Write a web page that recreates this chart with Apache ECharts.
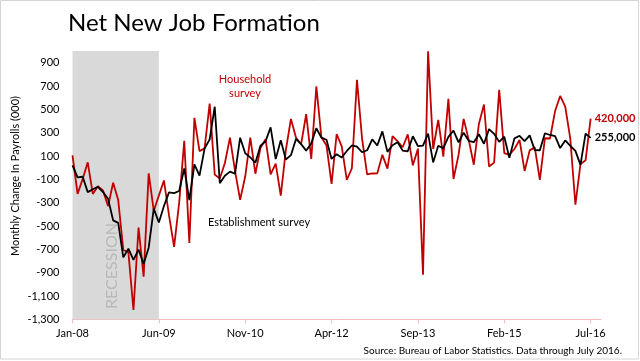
<!DOCTYPE html>
<html><head><meta charset="utf-8">
<script src="https://cdn.jsdelivr.net/npm/echarts@6/dist/echarts.min.js"></script>
<style>html,body{margin:0;padding:0;background:#fff}#c{width:640px;height:361px}</style>
</head><body><div id="c"></div>
<script>
// Monthly change in payrolls (thousands), Jan-08 .. Jul-16
const establishment = [
  20, -84, -78, -210, -185, -165, -209, -266, -452, -473, -769, -695,
  -791, -703, -823, -686, -351, -470, -329, -212, -219, -200, -7, -279,
  28, -69, 163, 243, 522, -133, -70, -34, -52, 257, 123, 88,
  42, 188, 225, 346, 73, 235, 70, 107, 246, 202, 146, 207,
  338, 257, 239, 75, 115, 87, 143, 190, 181, 132, 149, 243,
  190, 311, 135, 192, 218, 146, 140, 269, 185, 189, 291, 45,
  187, 168, 264, 318, 216, 300, 230, 218, 286, 205, 330, 290,
  221, 265, 84, 251, 273, 228, 277, 150, 149, 295, 280, 271,
  168, 233, 186, 144, 24, 292, 255
];
const household = [
  106, -225, -97, 46, -225, -160, -195, -330, -129, -278, -706, -724,
  -1220, -514, -935, -49, -370, -240, -110, -410, -680, -300, 230, -646,
  427, 142, 165, 550, -60, -93, 40, 258, -30, -276, -76, 258,
  -52, 168, 245, -58, 34, -240, 150, 418, 257, 200, 458, 74,
  696, 260, 190, -140, 288, 182, -105, -5, 753, 250, -58, -50,
  -49, 110, -8, 270, 225, 175, 285, 20, 163, -918, 998, 160,
  410, 95, 590, -97, 110, 418, 238, 25, 375, 541, 10, 43,
  667, 124, 110, 160, 238, -28, 148, 174, -105, 252, 250, 485,
  615, 523, 246, -318, 30, 63, 420
];
const tickLabels = ['Jan-08', 'Jun-09', 'Nov-10', 'Apr-12', 'Sep-13', 'Feb-15', 'Jul-16'];
const monthNames = ['Jan','Feb','Mar','Apr','May','Jun','Jul','Aug','Sep','Oct','Nov','Dec'];
const categories = [];
for (let y = 2008; y <= 2016; y++) {
  for (let i = 0; i < 12; i++) {
    if (y === 2016 && i > 8) break;
    categories.push(monthNames[i] + '-' + String(y).slice(2));
  }
}
const recession = ['Jan-08', 'Jun-09'];

const FONT = 'Lato';
const RED = '#c00000';
const fmt = v => {
  const s = Math.abs(v).toString().replace(/\B(?=(\d{3})+(?!\d))/g, ',');
  return (v < 0 ? '-' : '') + s;
};
const showTick = (idx, val) => tickLabels.indexOf(val) >= 0;

const chart = echarts.init(document.getElementById('c'), null, {renderer: 'canvas'});
chart.setOption({
  animation: false,
  backgroundColor: '#fff',
  textStyle: {fontFamily: FONT},
  title: {
    text: 'Net New Job Formation',
    left: 63, top: 6,
    textStyle: {fontFamily: FONT, fontSize: 24, fontWeight: 'normal', color: '#000'}
  },
  grid: {left: 72.5, right: 39.2, top: 51, bottom: 41.7, containLabel: false},
  xAxis: {
    type: 'category',
    data: categories,
    boundaryGap: false,
    axisLine: {onZero: false, lineStyle: {color: '#f3bcbc', width: 1}},
    axisTick: {show: true, interval: showTick, length: 4, lineStyle: {color: '#f3bcbc'}},
    axisLabel: {interval: showTick, color: '#000', fontSize: 11, margin: 9, fontFamily: FONT},
    splitLine: {show: false}
  },
  yAxis: {
    type: 'value',
    min: -1300, max: 1000, interval: 200,
    axisLine: {show: false},
    axisTick: {show: false},
    splitLine: {show: false},
    axisLabel: {
      color: '#000', fontSize: 11, margin: 13, fontFamily: FONT,
      showMaxLabel: false,
      formatter: v => fmt(v)
    }
  },
  series: [
    {
      name: 'Household survey',
      type: 'line',
      data: household,
      symbol: 'none',
      lineStyle: {color: RED, width: 1.8},
      itemStyle: {color: RED},
      z: 3,
      markArea: {
        silent: true,
        itemStyle: {color: '#d9d9d9'},
        data: [[{xAxis: recession[0], yAxis: 1000}, {xAxis: recession[1], yAxis: -1300}]]
      },
      endLabel: {
        show: true, distance: 4, color: RED, fontSize: 11, fontWeight: 'bold', fontFamily: FONT,
        formatter: p => fmt(p.value * 1000)
      }
    },
    {
      name: 'Establishment survey',
      type: 'line',
      data: establishment,
      symbol: 'none',
      lineStyle: {color: '#000', width: 1.8},
      itemStyle: {color: '#000'},
      z: 4,
      endLabel: {
        show: true, distance: 4, color: '#000', fontSize: 11, fontWeight: 'bold', fontFamily: FONT,
        formatter: p => fmt(p.value * 1000)
      }
    }
  ],
  graphic: [
    {type: 'rect', shape: {x: 0.5, y: 0.5, width: 638, height: 358.5},
     style: {fill: 'none', stroke: '#d4d4d4', lineWidth: 1}, z: 100},
    {type: 'text', x: 112, y: 266, rotation: Math.PI / 2,
     style: {text: 'RECESSION', fill: '#b8b8b8', fontSize: 16, fontFamily: FONT,
             textAlign: 'center', textVerticalAlign: 'middle'}, z: 50},
    {type: 'text', x: 15, y: 176, rotation: Math.PI / 2,
     style: {text: 'Monthly Change In Payrolls (000)', fill: '#000', fontSize: 11, fontFamily: FONT,
             textAlign: 'center', textVerticalAlign: 'middle'}},
    {type: 'text', x: 245, y: 86,
     style: {text: 'Household\nsurvey', fill: RED, fontSize: 11, lineHeight: 14, fontFamily: FONT,
             textAlign: 'center', textVerticalAlign: 'middle'}},
    {type: 'text', x: 259, y: 222,
     style: {text: 'Establishment survey', fill: '#000', fontSize: 11, fontFamily: FONT,
             textAlign: 'center', textVerticalAlign: 'middle'}},
    {type: 'text', x: 622, y: 351,
     style: {text: 'Source: Bureau of Labor Statistics. Data through July 2016.', fill: '#000',
             fontSize: 10, fontFamily: FONT, textAlign: 'right', textVerticalAlign: 'middle'}}
  ]
});
</script>
</body></html>
